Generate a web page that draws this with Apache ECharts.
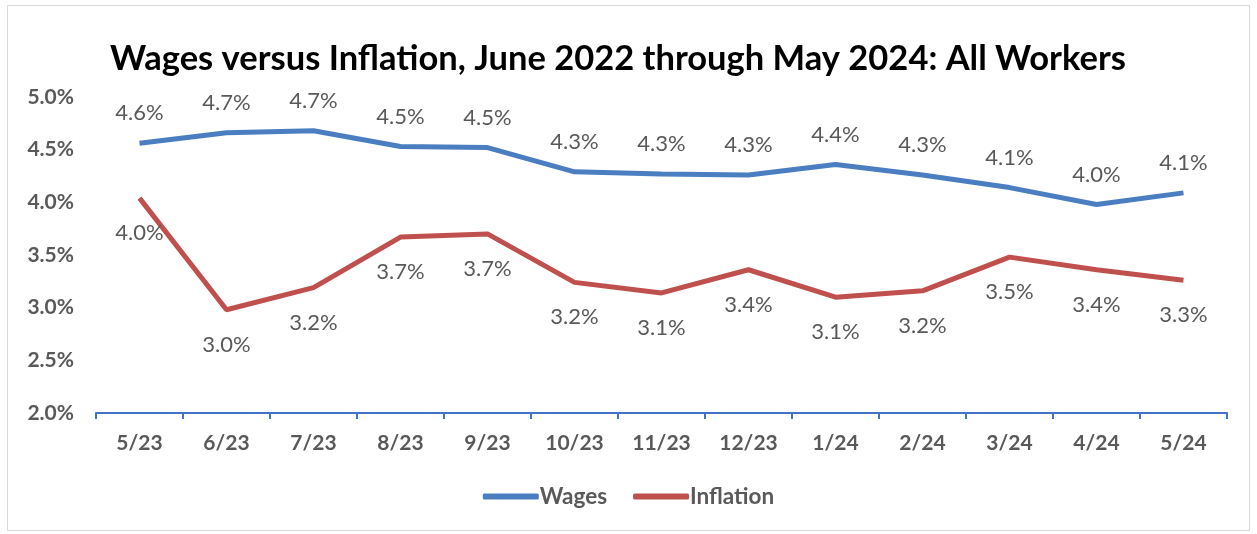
<!DOCTYPE html>
<html lang="en">
<head>
    <meta charset="UTF-8">
    <title>Wages versus Inflation</title>
    <script src="https://cdn.jsdelivr.net/npm/echarts@6/dist/echarts.min.js"></script>
    <style>
        html, body {
            margin: 0;
            padding: 0;
            background: #fff;
        }
        #frame {
            position: absolute;
            left: 7px;
            top: 5px;
            width: 1243px;
            height: 526px;
            border: 1px solid #d9d9d9;
            box-sizing: border-box;
        }
        #chart {
            width: 1257px;
            height: 534px;
        }
    </style>
</head>
<body>
    <div id="frame"></div>
    <div id="chart"></div>
    <script>
        // data
        const months = ['5/23', '6/23', '7/23', '8/23', '9/23', '10/23', '11/23', '12/23', '1/24', '2/24', '3/24', '4/24', '5/24'];
        const wages = [4.56, 4.66, 4.68, 4.53, 4.52, 4.29, 4.27, 4.26, 4.36, 4.26, 4.14, 3.98, 4.09];
        const inflation = [4.04, 2.98, 3.19, 3.67, 3.70, 3.24, 3.14, 3.36, 3.10, 3.16, 3.48, 3.36, 3.26];
        const yTicks = [2.0, 2.5, 3.0, 3.5, 4.0, 4.5, 5.0];

        const font = 'Lato, "Open Sans", sans-serif';
        const gray = '#595959';

        const chart = echarts.init(document.getElementById('chart'));

        function pct(p) {
            return p.value.toFixed(1) + '%';
        }

        chart.setOption({
            animation: false,
            title: {
                text: 'Wages versus Inflation, June 2022 through May 2024: All Workers',
                left: 613,
                textAlign: 'center',
                top: 36,
                textStyle: {
                    fontFamily: font,
                    fontWeight: 'bold',
                    fontSize: 34.5,
                    color: '#000'
                }
            },
            legend: {
                bottom: 21,
                left: 'center',
                itemWidth: 56,
                itemHeight: 6,
                itemGap: 26,
                icon: 'roundRect',
                textStyle: {
                    fontFamily: font,
                    fontWeight: 'bold',
                    fontSize: 22.5,
                    color: gray,
                    padding: [0, 0, 0, -4]
                },
                data: ['Wages', 'Inflation']
            },
            grid: {
                left: 96,
                right: 30,
                top: 97,
                bottom: 121
            },
            xAxis: {
                type: 'category',
                data: months,
                boundaryGap: true,
                axisLine: { lineStyle: { color: '#4472C4', width: 2 } },
                axisTick: { show: true, length: 6, lineStyle: { color: '#4472C4', width: 2 } },
                axisLabel: {
                    margin: 20,
                    fontFamily: font,
                    fontWeight: 'bold',
                    fontSize: 21,
                    color: gray
                }
            },
            yAxis: {
                type: 'value',
                min: yTicks[0],
                max: yTicks[yTicks.length - 1],
                interval: 0.5,
                splitLine: { show: false },
                axisLine: { show: false },
                axisTick: { show: false },
                axisLabel: {
                    margin: 22,
                    fontFamily: font,
                    fontWeight: 'bold',
                    fontSize: 21,
                    color: gray,
                    formatter: v => v.toFixed(1) + '%'
                }
            },
            series: [
                {
                    name: 'Wages',
                    type: 'line',
                    data: wages,
                    symbol: 'circle',
                    symbolSize: 0,
                    lineStyle: { color: '#4A7EC1', width: 5 },
                    itemStyle: { color: '#4A7EC1' },
                    label: {
                        show: true,
                        position: 'top',
                        distance: 19,
                        fontFamily: font,
                        fontSize: 22,
                        color: gray,
                        formatter: pct
                    }
                },
                {
                    name: 'Inflation',
                    type: 'line',
                    data: inflation,
                    symbol: 'circle',
                    symbolSize: 0,
                    lineStyle: { color: '#C0504D', width: 5 },
                    itemStyle: { color: '#C0504D' },
                    label: {
                        show: true,
                        position: 'bottom',
                        distance: 24,
                        fontFamily: font,
                        fontSize: 22,
                        color: gray,
                        formatter: pct
                    }
                }
            ]
        });
    </script>
</body>
</html>
